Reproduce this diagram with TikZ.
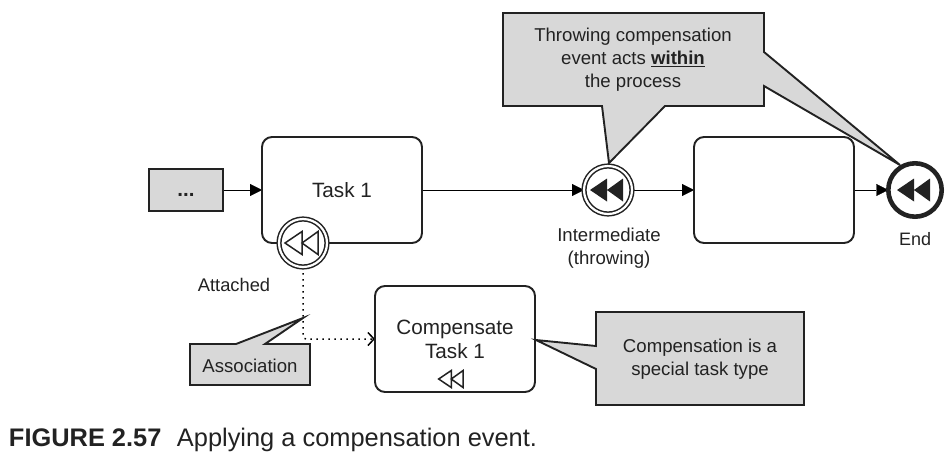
\documentclass[tikz,border=0pt]{standalone}
\usepackage{fontspec}
\setmainfont{Liberation Sans}
\usepackage{tikz}
\usetikzlibrary{arrows.meta}
\pgfdeclarelayer{bg}
\pgfsetlayers{bg,main}
\definecolor{noteGray}{HTML}{D8D8D8}
\definecolor{inkGray}{HTML}{222222}

\begin{document}
\begin{tikzpicture}[x=1pt, y=-1pt, line width=1.9pt, color=inkGray,
    every node/.style={font=\fontsize{18.6}{23}\selectfont, text=inkGray, inner sep=0pt, outer sep=0pt, align=center},
    taskbox/.style={draw, fill=white, rounded corners=10pt, minimum width=160pt, minimum height=106pt, font=\fontsize{20.7}{24}\selectfont},
    notebox/.style={draw, fill=noteGray, line join=miter},
    catching/.style={draw, fill=white, circle, double, double distance=2.2pt, line width=1.5pt, minimum size=48pt},
    closing/.style={draw, fill=white, circle, line width=4.6pt, minimum size=53.4pt},
    flow/.style={-{Triangle[length=12pt, width=12pt]}},
    assoc/.style={line width=1.5pt, dash pattern=on 1.5pt off 4.5pt, rounded corners=3pt, -{Straight Barb[length=6pt, width=13pt]}},
    rewind/.pic={\path[pic actions] (-18,0) -- (-1,-11.5) -- (-1,11.5) -- cycle (-1,0) -- (15,-11.5) -- (15,11.5) -- cycle;}]
    \useasboundingbox (0, 0) rectangle (952, 451);

    \node (dots) [notebox, minimum width=74pt, minimum height=42pt] at (186, 190) {};
    \node (dotstext) [font=\fontsize{20.5}{24}\selectfont\bfseries] at (186, 195) {...};
    \node (task1) [taskbox] at (342, 190) {Task 1};
    \node (blank) [taskbox] at (774, 190) {};
    \node (comp) [taskbox] at (455, 339) {Compensate\\Task 1};

    \node (attached) [catching] at (303, 243) {};
    \node (inter) [catching] at (608, 190) {};
    \node (endev) [closing] at (915, 190) {};

    \node (attachedlabel) [font=\fontsize{18.3}{22}\selectfont] at (234, 285) {Attached};
    \node (interlabel) at (609, 248) {Intermediate\\(throwing)};
    \node (endlabel) [font=\fontsize{18}{22}\selectfont] at (915, 239) {End};

    % notes with their pointers
    \draw[notebox] (190, 344) -- (236, 344) -- (303, 318) -- (265, 344) -- (310, 344) -- (310, 385) -- (190, 385) -- cycle;
    \node (assoctext) at (250, 366) {Association};
    \draw[notebox] (503, 13) -- (764, 13) -- (764, 52) -- (900, 165) -- (764, 86) -- (764, 106) -- (665, 106) -- (609, 163) -- (602, 106) -- (503, 106) -- cycle;
    \node (throwtext) at (633, 60) {Throwing compensation\\event acts \underline{\textbf{within}}\\the process};
    \draw[notebox] (596, 312) -- (804, 312) -- (804, 405) -- (596, 405) -- (596, 369) -- (536, 340) -- (596, 346) -- cycle;
    \node (notetext) at (700, 359) {Compensation is a\\special task type};

    \pic[draw, fill=white, line width=1.5pt] at (303, 243) {rewind};
    \pic[fill=inkGray] at (608, 190) {rewind};
    \pic[fill=inkGray] at (915, 190) {rewind};
    \pic[draw, fill=white, line width=1.5pt, scale=0.74] at (452, 379) {rewind};

    \node (caption) [anchor=base west, font=\fontsize{25.4}{30}\selectfont] at (9, 446) {\textbf{FIGURE 2.57}\hspace{15.5pt}Applying a compensation event.};

    \begin{pgfonlayer}{bg}
        \draw[flow] (dots) -- (task1);
        \draw[flow] (task1) -- (inter);
        \draw[flow] (inter) -- (blank);
        \draw[flow] (blank) -- (endev);
        \draw[assoc] (attached) |- (comp);
    \end{pgfonlayer}
\end{tikzpicture}
\end{document}
